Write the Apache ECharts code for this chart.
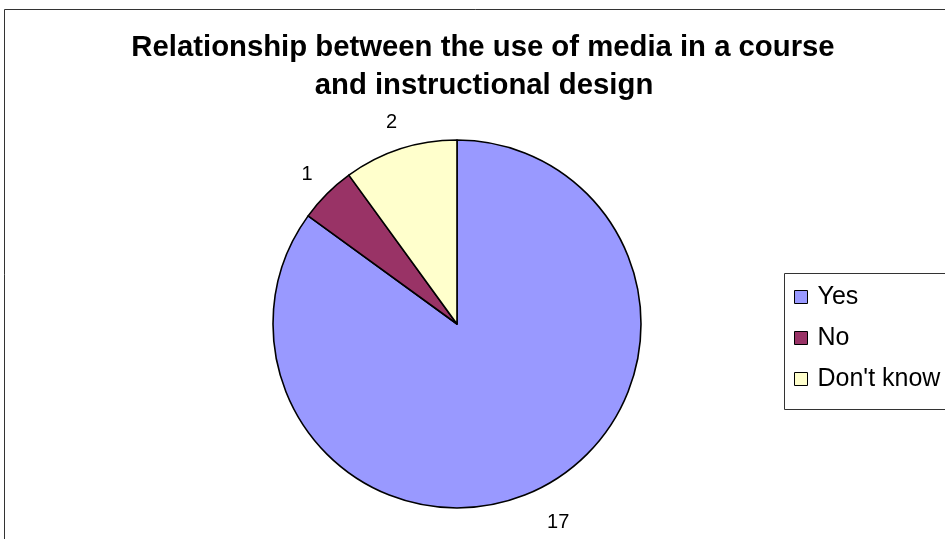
<!DOCTYPE html>
<html>
<head>
<meta charset="utf-8">
<script src="https://cdn.jsdelivr.net/npm/echarts@6/dist/echarts.min.js"></script>
<style>
  html, body { margin: 0; padding: 0; background: #ffffff; }
  #chart { width: 945px; height: 539px; }
</style>
</head>
<body>
<div id="chart"></div>
<script>
// Survey answers
const categories = ['Yes', 'No', "Don't know"];
const counts = [17, 1, 2];
const sliceColors = ['#9999FF', '#993366', '#FFFFCC'];
const titleLines = ['Relationship between the use of media in a course', 'and instructional design'];

const FONT = '"Liberation Sans", Arial, sans-serif';

// outer label distance per slice (the big slice's label sits below the pie)
const labelReach = [39, 28, 28];

const chart = echarts.init(document.getElementById('chart'), null, { renderer: 'canvas' });

chart.setOption({
  animation: false,
  backgroundColor: '#ffffff',
  color: sliceColors,
  graphic: [
    // chart area frame
    { type: 'rect', shape: { x: 4.5, y: 9.5, width: 1000, height: 600 },
      style: { fill: 'none', stroke: '#333333', lineWidth: 1 }, silent: true, z: 0 },
    // legend frame
    { type: 'rect', shape: { x: 784.5, y: 273.5, width: 300, height: 136 },
      style: { fill: '#ffffff', stroke: '#333333', lineWidth: 1 }, silent: true, z: 1 },
    { type: 'text', x: 483, y: 48, z: 5,
      style: { text: titleLines[0], font: 'bold 29.3px ' + FONT, fill: '#000000',
               textAlign: 'center', textVerticalAlign: 'middle' } },
    { type: 'text', x: 484, y: 86, z: 5,
      style: { text: titleLines[1], font: 'bold 29.3px ' + FONT, fill: '#000000',
               textAlign: 'center', textVerticalAlign: 'middle' } }
  ],
  legend: {
    orient: 'vertical',
    left: 794,
    top: 284.5,
    padding: 0,
    itemWidth: 13,
    itemHeight: 13,
    itemGap: 16,
    icon: 'rect',
    selectedMode: false,
    z: 10,
    textStyle: { fontFamily: FONT, fontSize: 25, color: '#000000', lineHeight: 25, padding: [0, 0, 0, 5] },
    itemStyle: { borderColor: '#000000', borderWidth: 1 },
    data: categories
  },
  series: [{
    type: 'pie',
    center: [457, 324],
    radius: 184,
    startAngle: 90,
    clockwise: true,
    avoidLabelOverlap: false,
    itemStyle: { borderColor: '#000000', borderWidth: 1.6 },
    label: {
      show: true,
      position: 'outside',
      formatter: '{c}',
      fontFamily: FONT,
      fontSize: 20,
      color: '#000000',
      distanceToLabelLine: 0
    },
    labelLine: { show: false, length: 28, length2: 0 },
    labelLayout: { align: 'center' },
    emphasis: { disabled: true },
    data: categories.map((name, i) => ({
      name: name,
      value: counts[i],
      labelLine: { show: false, length: labelReach[i], length2: 0 }
    }))
  }]
});
</script>
</body>
</html>
